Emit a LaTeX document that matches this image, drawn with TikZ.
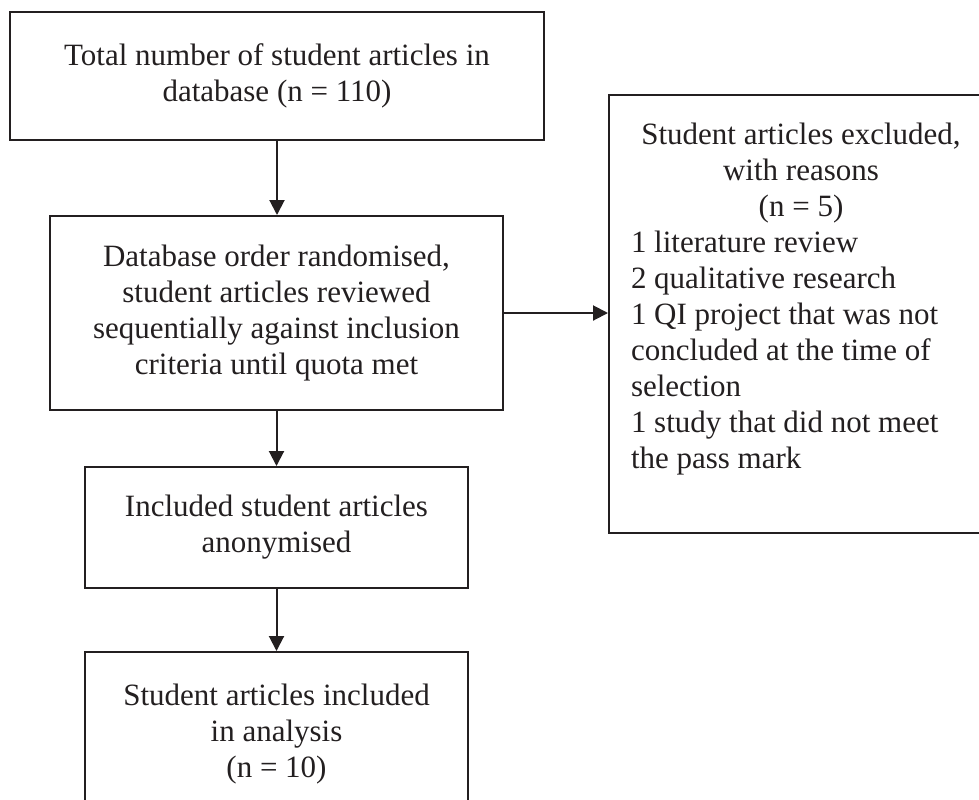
\documentclass[tikz,border=0pt]{standalone}
\usepackage{fontspec}
\setmainfont{Liberation Serif}
\usetikzlibrary{arrows.meta}
\definecolor{ink}{HTML}{231F20}
\tikzset{
  flowbox/.style={draw=ink, line width=1pt, align=center, inner sep=0pt, text=ink,
    font=\fontsize{15.5}{18}\selectfont},
  flowarrow/.style={draw=ink, line width=1pt, -{Triangle[length=7.5pt,width=7.5pt]}}
}
\begin{document}
\begin{tikzpicture}[x=0.5pt,y=-0.5pt]
  \useasboundingbox (0,0) rectangle (979,799);
  \node[flowbox, minimum width=267pt, minimum height=64pt] (total) at (277,76)
    {Total number of student articles in\\database (n = 110)};
  \node[flowbox, minimum width=226.5pt, minimum height=97pt] (random) at (276.5,313)
    {Database order randomised,\\student articles reviewed\\sequentially against inclusion\\criteria until quota met};
  \node[flowbox, anchor=north west, align=flush left, text width=170pt, inner xsep=11pt,
    text height=24.5pt, text depth=194.5pt] (excl) at (608,94)
    {{\centering Student articles excluded,\\with reasons\\(n = 5)\par}
     1 literature review\\2 qualitative research\\1 QI project that was not\\concluded at the time of\\selection\\1 study that did not meet\\the pass mark};
  \node[flowbox, minimum width=191.5pt, minimum height=60.5pt] (anon) at (276.5,527.5)
    {Included student articles\\anonymised};
  \node[flowbox, anchor=north, minimum width=191.5pt, minimum height=82pt] (incl) at (276.5,651)
    {Student articles included\\in analysis\\(n = 10)};
  \draw[flowarrow] (total.south) -- (total.south |- random.north);
  \draw[flowarrow] (random.east) -- (random.east -| excl.west);
  \draw[flowarrow] (random.south) -- (random.south |- anon.north);
  \draw[flowarrow] (anon.south) -- (anon.south |- incl.north);
\end{tikzpicture}
\end{document}
